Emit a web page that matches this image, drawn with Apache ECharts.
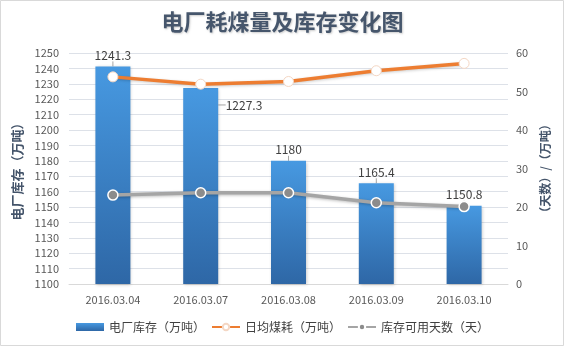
<!DOCTYPE html>
<html>
<head>
<meta charset="utf-8">
<script src="https://cdn.jsdelivr.net/npm/echarts@6/dist/echarts.min.js"></script>
<style>
html,body{margin:0;padding:0;background:#fff;}
#c{width:565px;height:349px;}
</style>
</head>
<body>
<div id="c"></div>
<script>
const categories = ['2016.03.04','2016.03.07','2016.03.08','2016.03.09','2016.03.10'];
const stockValues = [1241.3, 1227.3, 1180, 1165.4, 1150.8];
const dailyCoalValues = [53.8, 51.9, 52.6, 55.4, 57.3];
const daysValues = [23.1, 23.7, 23.7, 21.1, 20.1];
const leftTicks = {min:1100, max:1250, interval:10};
const rightTicks = {min:0, max:60, interval:10};
const seriesNames = ['电厂库存（万吨）','日均煤耗（万吨）','库存可用天数（天）'];
const titleText = '电厂耗煤量及库存变化图';
const leftAxisName = '电厂库存（万吨）';
const rightAxisName = '（天数）/（万吨）';

const chart = echarts.init(document.getElementById('c'), null, {renderer:'canvas'});
const font = '"Microsoft YaHei","Noto Sans CJK SC",sans-serif';
const option = {
  backgroundColor:'#fff',
  animation:false,
  textStyle:{fontFamily:font},
  graphic:[{type:'rect',shape:{x:0.5,y:0.5,width:563,height:345},style:{fill:'none',stroke:'#d9d9d9',lineWidth:1},silent:true}],
  title:{
    text:titleText, left:'center', top:6,
    textStyle:{fontSize:22,fontWeight:'bold',color:'#46566C',fontFamily:font,
      textShadowColor:'rgba(0,0,0,0.2)',textShadowBlur:2,textShadowOffsetX:1,textShadowOffsetY:1}
  },
  legend:{
    bottom:11, left:'center', itemGap:6, itemWidth:28, itemHeight:8,
    textStyle:{fontSize:12,color:'#404040'},
    data:[
      {name:seriesNames[0], icon:'rect'},
      {name:seriesNames[1]},
      {name:seriesNames[2]}
    ]
  },
  grid:{left:69, right:57, top:53, bottom:65, containLabel:false},
  xAxis:{
    type:'category', data:categories,
    axisLine:{show:true,lineStyle:{color:'#d9d9d9'}},
    axisTick:{show:false},
    axisLabel:{color:'#595959',fontSize:11,margin:10}
  },
  yAxis:[
    {type:'value', min:leftTicks.min, max:leftTicks.max, interval:leftTicks.interval,
     name:leftAxisName, nameLocation:'middle', nameGap:41,
     nameTextStyle:{fontSize:13,fontWeight:'bold',color:'#44546A'},
     axisLine:{show:false}, axisTick:{show:false},
     axisLabel:{color:'#595959',fontSize:11,margin:10,formatter:function(v){return String(v);}},
     splitLine:{lineStyle:{color:'#dde1e8',width:1}}},
    {type:'value', min:rightTicks.min, max:rightTicks.max, interval:rightTicks.interval,
     name:rightAxisName, nameLocation:'middle', nameGap:26,
     nameTextStyle:{fontSize:12,fontWeight:'bold',color:'#44546A'},
     axisLine:{show:false}, axisTick:{show:false},
     axisLabel:{color:'#595959',fontSize:11,margin:8},
     splitLine:{show:false}}
  ],
  series:[
    {name:seriesNames[0], type:'bar', yAxisIndex:0, barWidth:35,
     data:stockValues,
     itemStyle:{color:new echarts.graphic.LinearGradient(0,0,0,1,[{offset:0,color:'#4799E1'},{offset:1,color:'#2E67A6'}]),
       shadowColor:'rgba(0,0,0,0.2)',shadowBlur:3,shadowOffsetX:1,shadowOffsetY:1},
     label:{show:true,position:'top',distance:5,color:'#404040',fontSize:12},
     labelLine:{show:true,lineStyle:{color:'#a6a6a6',width:1}},
     labelLayout:function(p){
       if(p.dataIndex===1){
         const cx = p.rect.x + p.rect.width/2;
         const top = p.rect.y;
         const ly = top + 17;
         return {x:cx+25, y:ly, align:'left', verticalAlign:'middle',
           labelLinePoints:[[cx-3, top], [cx+13, ly], [cx+22, ly]]};
       }
       return {};
     },
     z:2},
    {name:seriesNames[1], type:'line', yAxisIndex:1, data:dailyCoalValues,
     symbol:'circle', symbolSize:10,
     lineStyle:{color:'#ED7D31',width:3.5,shadowColor:'rgba(0,0,0,0.2)',shadowBlur:3,shadowOffsetY:1},
     itemStyle:{color:'#ffffff',borderColor:'#f4d7c4',borderWidth:1},
     z:3},
    {name:seriesNames[2], type:'line', yAxisIndex:1, data:daysValues,
     symbol:'circle', symbolSize:10,
     lineStyle:{color:'#A5A5A5',width:3.5,shadowColor:'rgba(0,0,0,0.25)',shadowBlur:3,shadowOffsetY:1},
     itemStyle:{color:'#8c8c8c',borderColor:'#ffffff',borderWidth:1.5},
     z:3}
  ]
};
chart.setOption(option);
</script>
</body>
</html>
